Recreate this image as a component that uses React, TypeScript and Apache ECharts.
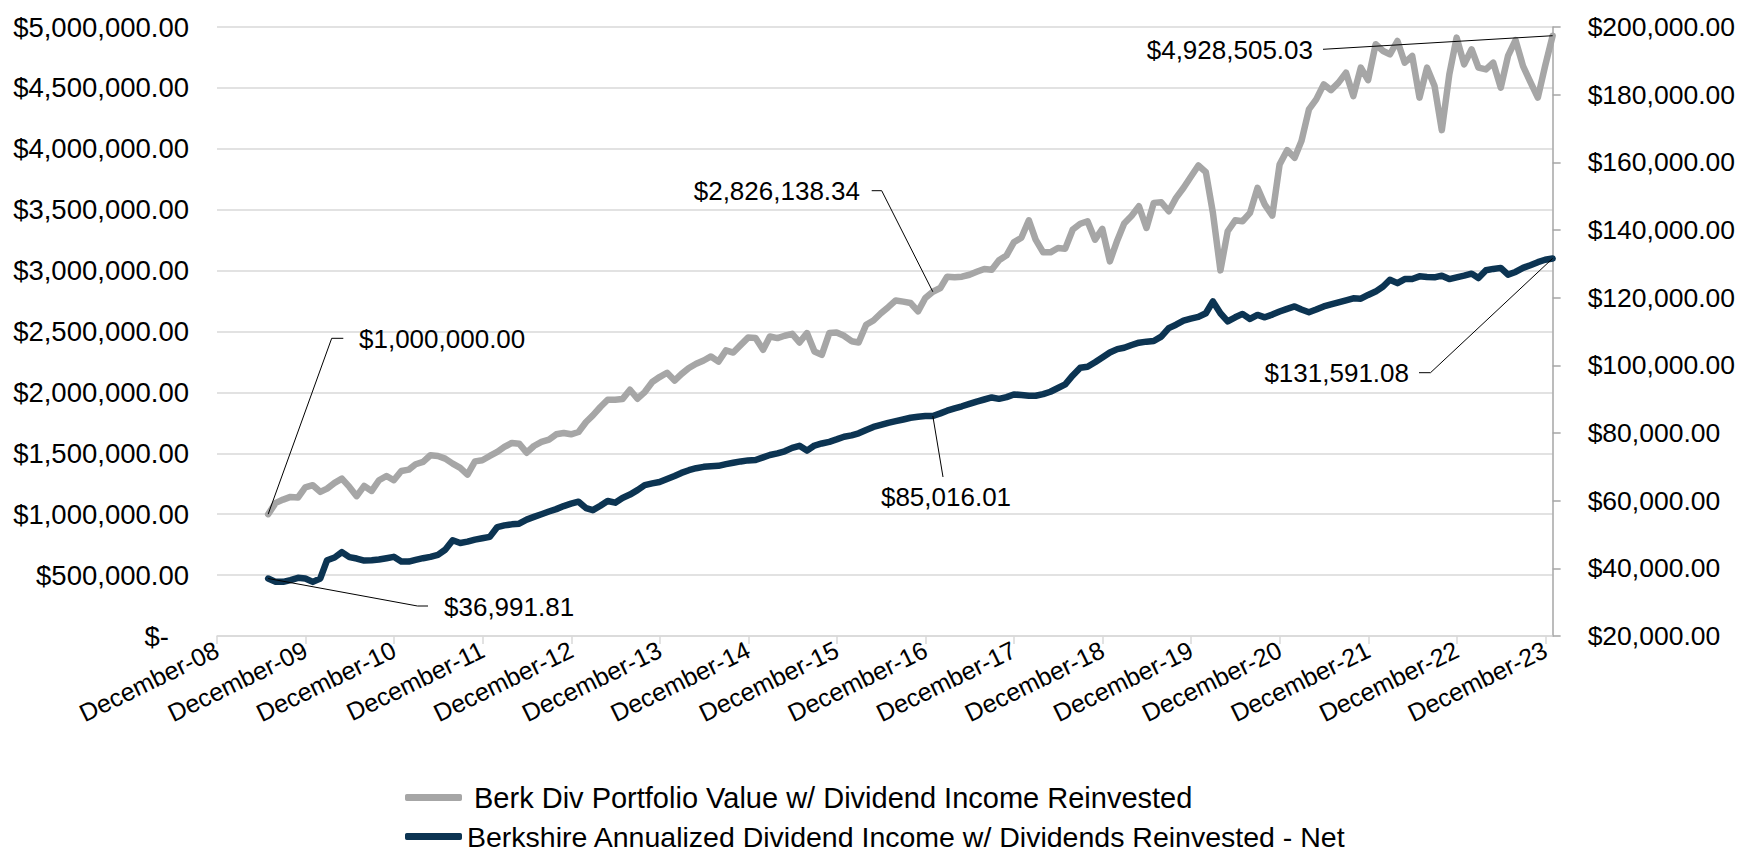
import React, { useEffect, useRef } from "react";
import * as echarts from "echarts";

const seriesNames = [
  "Berk Div Portfolio Value w/ Dividend Income Reinvested",
  "Berkshire Annualized Dividend Income w/ Dividends Reinvested - Net",
];

// Month-end observations, first one is June 2009
const firstObservation = { year: 2009, monthIndex: 5 };

// Portfolio value (left axis), one value per month-end, Jun-2009 .. Dec-2023
const portfolioValue = [
  1000000, 1093000, 1120000, 1142000, 1137000, 1220000, 1238000,
  1183000, 1210000, 1257000, 1292000, 1224000, 1148000, 1232000, 1191000, 1279000, 1314000, 1279000, 1355000,
  1366000, 1410000, 1429000, 1484000, 1478000, 1456000, 1415000, 1380000, 1325000, 1434000, 1443000, 1478000,
  1511000, 1552000, 1585000, 1579000, 1505000, 1560000, 1593000, 1612000, 1656000, 1667000, 1656000, 1675000,
  1757000, 1811000, 1880000, 1940000, 1940000, 1945000, 2022000, 1948000, 2003000, 2085000, 2126000, 2161000,
  2097000, 2150000, 2200000, 2235000, 2262000, 2295000, 2253000, 2345000, 2327000, 2390000, 2450000, 2446000,
  2350000, 2459000, 2446000, 2465000, 2481000, 2410000, 2487000, 2336000, 2308000, 2487000, 2492000, 2465000,
  2420000, 2410000, 2555000, 2590000, 2650000, 2700000, 2755000, 2745000, 2734000, 2665000, 2775000, 2826138.34,
  2857000, 2950000, 2945000, 2950000, 2966000, 2990000, 3013000, 3007000, 3085000, 3125000, 3232000, 3270000,
  3413000, 3254000, 3150000, 3150000, 3186000, 3180000, 3337000, 3385000, 3405000, 3254000, 3342000, 3076000,
  3250000, 3386000, 3450000, 3528000, 3350000, 3556000, 3561000, 3487000, 3597000, 3680000, 3770000, 3863000,
  3808000, 3474000, 3002000, 3323000, 3413000, 3405000, 3474000, 3679000, 3542000, 3452000, 3871000, 3989000,
  3926000, 4063000, 4323000, 4406000, 4529000, 4482000, 4543000, 4625000, 4433000, 4666000, 4564000, 4858000,
  4803000, 4776000, 4885000, 4707000, 4762000, 4420000, 4666000, 4515000, 4153000, 4611000, 4913000, 4693000,
  4817000, 4666000, 4652000, 4707000, 4502000, 4762000, 4893000, 4679000, 4550000, 4420000, 4680000, 4928505.03,
];

// Annualized dividend income (right axis), same month-ends
const dividendIncome = [
  36991.81, 36000, 36000, 36500, 37200, 37000, 36000,
  37000, 42400, 43200, 44800, 43300, 42900, 42300, 42400, 42600, 43000, 43400, 42000,
  42000, 42500, 43000, 43400, 44000, 45500, 48300, 47500, 47900, 48500, 48900, 49300,
  52200, 52700, 53000, 53200, 54400, 55200, 56000, 56800, 57500, 58400, 59100, 59700,
  57800, 57200, 58500, 59900, 59400, 60800, 61800, 63100, 64600, 65100, 65500, 66400,
  67300, 68200, 69000, 69600, 70000, 70200, 70300, 70800, 71200, 71600, 71900, 72000,
  72800, 73500, 74000, 74600, 75600, 76200, 74800, 76300, 76900, 77400, 78100, 78900,
  79300, 79900, 80900, 81800, 82400, 83000, 83500, 84000, 84500, 84800, 85000, 85016.01,
  85800, 86600, 87300, 87900, 88600, 89300, 89900, 90500, 90100, 90600, 91400, 91200,
  91000, 91000, 91500, 92200, 93300, 94400, 97000, 99300, 99600, 100900, 102300, 103800,
  104800, 105200, 106000, 106700, 107000, 107200, 108500, 111000, 112000, 113200, 113800, 114300,
  115400, 118900, 115400, 113000, 114200, 115200, 113700, 114900, 114200, 115000, 115900, 116700,
  117400, 116500, 115700, 116500, 117400, 118000, 118600, 119200, 119800, 119700, 120800, 121800,
  123300, 125300, 124300, 125500, 125500, 126300, 126100, 126000, 126500, 125500, 126000, 126500,
  127100, 125800, 128100, 128500, 128800, 126800, 127600, 128800, 129600, 130500, 131200, 131591.08,
];

const xTickYears = [2008, 2009, 2010, 2011, 2012, 2013, 2014, 2015, 2016, 2017, 2018, 2019, 2020, 2021, 2022, 2023];
const xTickLabels = [
  "December-08", "December-09", "December-10", "December-11", "December-12", "December-13",
  "December-14", "December-15", "December-16", "December-17", "December-18", "December-19",
  "December-20", "December-21", "December-22", "December-23",
];

const FONT = '"Liberation Sans", Arial, Helvetica, sans-serif';
const GRAY = "#A6A6A6";
const NAVY = "#0C3452";
const GRID = "#D9D9D9";

const money = (v: number) =>
  "$" + v.toLocaleString("en-US", { minimumFractionDigits: 2, maximumFractionDigits: 2 });

export default function App() {
  const ref = useRef<HTMLDivElement>(null);

  useEffect(() => {
    const chart = echarts.init(ref.current!, undefined, { renderer: "svg" });

    const dates = portfolioValue.map((_, i) =>
      new Date(firstObservation.year, firstObservation.monthIndex + i + 1, 0).getTime()
    );
    const tickValues = xTickYears.map((y) => new Date(y, 11, 1).getTime());
    const xMin = tickValues[0];
    const xMax = dates[dates.length - 1];
    const labelFor = (v: number) => {
      const idx = tickValues.findIndex((t) => Math.abs(t - v) < 86400000);
      return idx >= 0 ? xTickLabels[idx] : "";
    };

    chart.setOption({
      animation: false,
      backgroundColor: "#FFFFFF",
      textStyle: { fontFamily: FONT },
      grid: { left: 217, right: 185, top: 27, height: 609, containLabel: false },
      legend: [
        {
          data: [seriesNames[0]],
          left: 405,
          top: 783,
          padding: 0,
          itemWidth: 57,
          itemHeight: 7,
          icon: "roundRect",
          selectedMode: false,
          textStyle: { fontSize: 29, lineHeight: 26, color: "#000", fontFamily: FONT, padding: [0, 0, 0, 7] },
        },
        {
          data: [seriesNames[1]],
          left: 405,
          top: 822,
          padding: 0,
          itemWidth: 57,
          itemHeight: 7,
          icon: "roundRect",
          selectedMode: false,
          textStyle: { fontSize: 28.5, lineHeight: 26, color: "#000", fontFamily: FONT },
        },
      ],
      xAxis: {
        type: "value",
        min: xMin,
        max: xMax,
        axisLine: { show: true, lineStyle: { color: GRID, width: 1.5 } },
        axisTick: { show: true, customValues: tickValues, length: 8, lineStyle: { color: GRID, width: 1.5 } },
        axisLabel: {
          customValues: tickValues,
          rotate: 26,
          margin: 12,
          fontSize: 25,
          color: "#000",
          fontFamily: FONT,
          formatter: (v: number) => labelFor(v),
        },
        splitLine: { show: false },
      },
      yAxis: [
        {
          type: "value",
          position: "left",
          min: 0,
          max: 5000000,
          interval: 500000,
          axisLine: { show: false },
          axisTick: { show: false },
          splitLine: { show: true, lineStyle: { color: GRID, width: 1.5 } },
          axisLabel: {
            margin: 28,
            fontSize: 27.5,
            color: "#000",
            fontFamily: FONT,
            formatter: (v: number) => (v === 0 ? "{z|$-}" : money(v)),
            rich: { z: { fontSize: 27.5, color: "#000", fontFamily: FONT, padding: [0, 20, 0, 0] } },
          },
        },
        {
          type: "value",
          position: "right",
          min: 20000,
          max: 200000,
          interval: 20000,
          axisLine: { show: true, lineStyle: { color: GRAY, width: 1.5 } },
          axisTick: { show: true, length: 8, lineStyle: { color: GRAY, width: 1.5 } },
          splitLine: { show: false },
          axisLabel: { margin: 35, fontSize: 26.5, color: "#000", fontFamily: FONT, formatter: (v: number) => money(v) },
        },
      ],
      series: [
        {
          name: seriesNames[0],
          type: "line",
          yAxisIndex: 0,
          data: dates.map((t, i) => [t, portfolioValue[i]]),
          showSymbol: false,
          symbol: "none",
          silent: true,
          itemStyle: { color: GRAY },
          lineStyle: { color: GRAY, width: 6.5, cap: "round", join: "round" },
          z: 2,
        },
        {
          name: seriesNames[1],
          type: "line",
          yAxisIndex: 1,
          data: dates.map((t, i) => [t, dividendIncome[i]]),
          showSymbol: false,
          symbol: "none",
          silent: true,
          itemStyle: { color: NAVY },
          lineStyle: { color: NAVY, width: 6.5, cap: "round", join: "round" },
          z: 3,
        },
      ],
    });

    const P = (axis: number, i: number) =>
      chart.convertToPixel({ xAxisIndex: 0, yAxisIndex: axis }, [
        dates[i],
        axis === 0 ? portfolioValue[i] : dividendIncome[i],
      ]) as number[];
    const last = dates.length - 1;
    const dec16 = dates.findIndex((t) => {
      const d = new Date(t);
      return d.getFullYear() === 2016 && d.getMonth() === 11;
    });

    const callouts = [
      { at: P(0, 0), via: [[331.7, 338.3], [343.3, 338.3]], text: money(portfolioValue[0]), x: 359, y: 339, align: "left" },
      { at: P(0, dec16), via: [[881.7, 190.7], [871.7, 190.7]], text: money(portfolioValue[dec16]), x: 860, y: 191, align: "right" },
      { at: P(1, dec16), via: [[943, 477]], text: money(dividendIncome[dec16]), x: 946, y: 497, align: "center" },
      { at: P(0, last), via: [[1323, 49.3]], text: money(portfolioValue[last]), x: 1313, y: 50, align: "right" },
      { at: P(1, last), via: [[1430.5, 372.7], [1419, 372.7]], text: money(dividendIncome[last]), x: 1409, y: 373, align: "right" },
      { at: P(1, 0), via: [[417.5, 606], [428, 606]], text: money(dividendIncome[0]), x: 444, y: 607, align: "left" },
    ];

    const graphic: any[] = [];
    callouts.forEach((c) => {
      graphic.push({
        type: "polyline",
        silent: true,
        z: 50,
        shape: { points: [c.at, ...c.via] },
        style: { stroke: "#000", lineWidth: 1, fill: null },
      });
      graphic.push({
        type: "text",
        silent: true,
        z: 50,
        x: c.x,
        y: c.y,
        style: {
          text: c.text,
          fontSize: 26,
          fontFamily: FONT,
          fill: "#000",
          align: c.align,
          verticalAlign: "middle",
        },
      });
    });
    chart.setOption({ graphic });

    return () => chart.dispose();
  }, []);

  return (
    <div
      ref={ref}
      style={{ position: "absolute", left: 0, top: 0, width: 1738, height: 853, background: "#fff" }}
    />
  );
}
